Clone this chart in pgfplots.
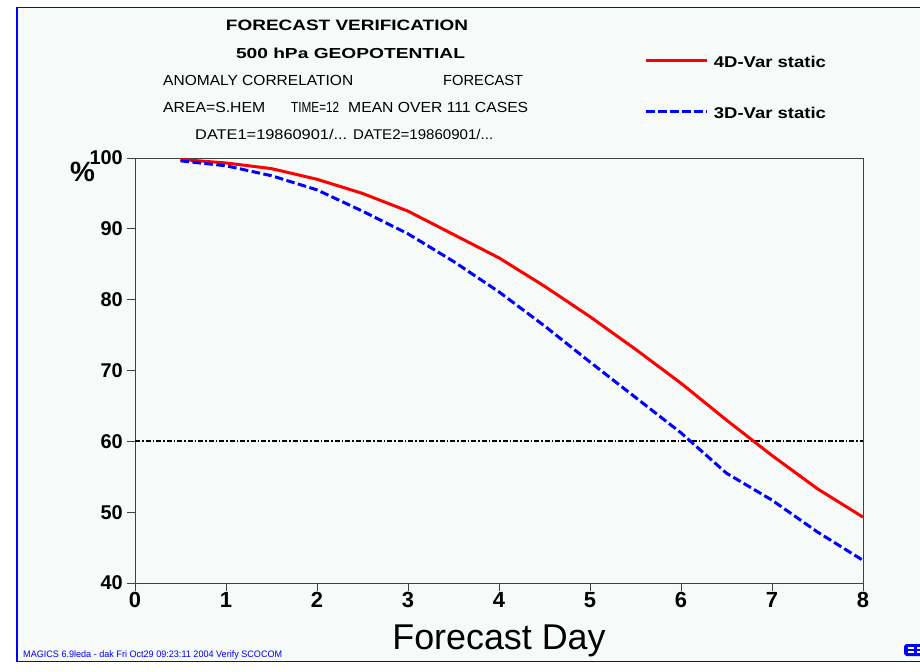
\documentclass[border=0pt]{standalone}
\usepackage{fontspec}
\setmainfont{Liberation Sans}
\usepackage{graphicx}
\usepackage{pgfplots}
\pgfplotsset{compat=1.18}

\definecolor{panel}{RGB}{246,250,248}
\definecolor{frameblue}{RGB}{0,0,255}

% text squeezed into a given width and cap height (in bp)
\newcommand{\fit}[3]{\resizebox{#1bp}{#2bp}{#3}}

\pgfplotstableread{
day  acc
0.5  99.8
1.0  99.3
1.5  98.5
2.0  97.0
2.5  95.0
3.0  92.5
3.5  89.2
4.0  85.9
4.5  81.9
5.0  77.6
5.5  73.0
6.0  68.2
6.5  63.0
7.0  58.0
7.5  53.3
8.0  49.3
}\fourdvar

\pgfplotstableread{
day  acc
0.5  99.6
1.0  98.9
1.5  97.5
2.0  95.5
2.5  92.5
3.0  89.3
3.5  85.4
4.0  81.1
4.5  76.3
5.0  71.2
5.5  66.2
6.0  61.2
6.5  55.5
7.0  51.7
7.5  47.2
8.0  43.2
}\threedvar

\begin{document}
\begin{tikzpicture}
\path[use as bounding box] (0,0) rectangle (920bp,-672bp);
\fill[white] (0,0) rectangle (920bp,-672bp);
\filldraw[fill=panel, draw=frameblue, line width=1.6bp] (16.8bp,-7.4bp) rectangle (930bp,-661.6bp);

% header block
\node[anchor=base, inner sep=0] at (347bp,-30.5bp) {\fit{242}{10.5}{\bfseries FORECAST VERIFICATION}};
\node[anchor=base, inner sep=0] at (350.5bp,-58bp) {\fit{229}{10.5}{\bfseries 500 hPa GEOPOTENTIAL}};
\node[anchor=base west, inner sep=0] at (163bp,-85.5bp) {\fit{190}{10.2}{ANOMALY CORRELATION}};
\node[anchor=base west, inner sep=0] at (443bp,-85.5bp) {\fit{80}{10.2}{FORECAST}};
\node[anchor=base west, inner sep=0] at (163bp,-112.5bp) {\fit{102}{10.2}{AREA=S.HEM}};
\node[anchor=base west, inner sep=0] at (291bp,-112.5bp) {\fit{48}{10.2}{TIME=12}};
\node[anchor=base west, inner sep=0] at (348bp,-112.5bp) {\fit{180}{10.2}{MEAN OVER 111 CASES}};
\node[anchor=base west, inner sep=0] at (195bp,-139bp) {\fit{152}{10.2}{DATE1=19860901/...}};
\node[anchor=base west, inner sep=0] at (353bp,-139bp) {\fit{140}{10.2}{DATE2=19860901/...}};

% footer
\node[anchor=base west, inner sep=0, text=frameblue] at (23bp,-657bp)
  {\fit{259}{6.8}{MAGICS 6.9leda - dak Fri Oct29 09:23:11 2004 Verify SCOCOM}};
% corner logo, cut by the page edge
\fill[frameblue, rounded corners=3bp] (904bp,-644bp) rectangle (930bp,-656bp);
\draw[white, line width=1.6bp] (908bp,-648bp) -- (914bp,-648bp) (908bp,-652bp) -- (914bp,-652bp)
  (917bp,-648bp) -- (923bp,-648bp) (917bp,-652bp) -- (923bp,-652bp);

\begin{axis}[
  at={(135bp,-583bp)}, anchor=south west,
  scale only axis, width=728bp, height=425bp,
  xmin=0, xmax=8, ymin=40, ymax=100,
  xtick={0,...,8}, ytick={40,50,...,100},
  xtick pos=left, ytick pos=left,
  tick align=outside, major tick length=8bp,
  axis line style={line width=1bp, black!75},
  tick style={line width=1bp, black!75},
  axis background/.style={fill=panel},
  /pgf/number format/assume math mode=true,
  xticklabel style={font=\fontsize{22}{22}\selectfont\bfseries, inner sep=1bp},
  yticklabel style={font=\fontsize{20}{20}\selectfont\bfseries, inner sep=4bp},
  xlabel={Forecast Day},
  xlabel style={font=\fontsize{36}{36}\selectfont, at={(axis description cs:0.5,-0.1553)}, anchor=base},
  ylabel={\%},
  ylabel style={font=\fontsize{28}{28}\selectfont\bfseries, rotate=-90,
    at={(axis description cs:-0.0721,0.967)}, anchor=center},
  clip=false,
  legend style={at={(axis description cs:0.7005,1.2400)}, anchor=north west,
    draw=none, fill=none, inner sep=0pt, outer sep=0pt,
    row sep=38bp, column sep=5bp,
    nodes={inner sep=0pt, anchor=west}},
  legend cell align=left,
  legend image code/.code={\draw[#1] (0bp,1.5bp) -- (61bp,1.5bp);},
]
\addplot[black, line width=2bp, dash pattern=on 5bp off 2bp on 1.5bp off 2bp, forget plot]
  coordinates {(0,60) (8,60)};
\addplot[red, line width=3bp] table[x=day, y=acc] {\fourdvar};
\addlegendentry{\fit{112}{11.3}{\bfseries 4D-Var static}}
\addplot[blue, line width=3bp, dash pattern=on 8.5bp off 3.5bp] table[x=day, y=acc] {\threedvar};
\addlegendentry{\fit{112}{11.3}{\bfseries 3D-Var static}}
\end{axis}
\end{tikzpicture}
\end{document}
